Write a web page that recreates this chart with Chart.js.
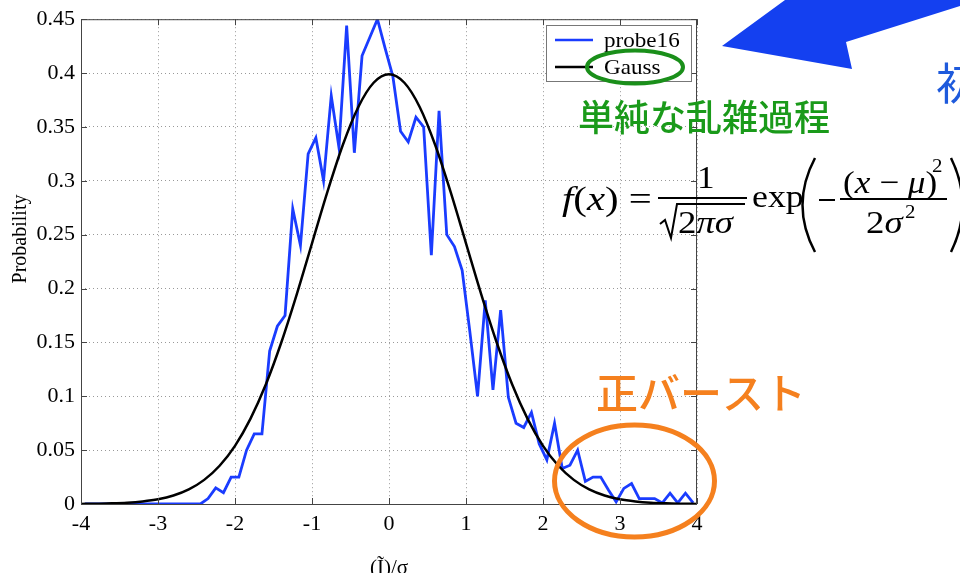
<!DOCTYPE html>
<html>
<head>
<meta charset="utf-8">
<script src="https://cdn.jsdelivr.net/npm/chart.js@4.4.0/dist/chart.umd.min.js"></script>
<style>
  html, body { margin: 0; padding: 0; background: #fff; }
  #wrap { position: relative; width: 960px; height: 573px; overflow: hidden; }
</style>
</head>
<body>
<div id="wrap"><canvas id="pdfChart" width="960" height="573"></canvas></div>
<script>
// probe16 histogram: bin centres (in sigma) and probabilities
const probeX = [-3.95, -3.85, -3.75, -3.65, -3.55, -3.45, -3.35, -3.25, -3.15, -3.05,
  -2.95, -2.85, -2.75, -2.65, -2.55, -2.45, -2.35, -2.25, -2.15, -2.05,
  -1.95, -1.85, -1.75, -1.65, -1.55, -1.45, -1.35, -1.25, -1.15, -1.05,
  -0.95, -0.85, -0.75, -0.65, -0.55, -0.45, -0.35, -0.25, -0.15, -0.05,
  0.05, 0.15, 0.25, 0.35, 0.45, 0.55, 0.65, 0.75, 0.85, 0.95,
  1.05, 1.15, 1.25, 1.35, 1.45, 1.55, 1.65, 1.75, 1.85, 1.95,
  2.05, 2.15, 2.25, 2.35, 2.45, 2.55, 2.65, 2.75, 2.85, 2.95,
  3.05, 3.15, 3.25, 3.35, 3.45, 3.55, 3.65, 3.75, 3.85, 3.95];
const probeY = [0, 0, 0, 0, 0, 0, 0, 0, 0, 0,
  0, 0, 0, 0, 0, 0, 0.005, 0.015, 0.0105, 0.025,
  0.025, 0.05, 0.065, 0.065, 0.142, 0.165, 0.175, 0.274, 0.24, 0.325,
  0.34, 0.30, 0.379, 0.331, 0.444, 0.326, 0.416, 0.433, 0.45, 0.423,
  0.397, 0.346, 0.336, 0.359, 0.35, 0.231, 0.365, 0.25, 0.239, 0.217,
  0.16, 0.10, 0.189, 0.106, 0.18, 0.099, 0.075, 0.071, 0.085, 0.056,
  0.041, 0.075, 0.033, 0.036, 0.05, 0.021, 0.025, 0.025, 0.013, 0.002,
  0.0145, 0.019, 0.005, 0.005, 0.005, 0.001, 0.01, 0.001, 0.01, 0.001];

// reference normal curve
const gaussX = [-4, -3.8, -3.6, -3.4, -3.2, -3, -2.8, -2.6, -2.4, -2.2,
  -2, -1.8, -1.6, -1.4, -1.2, -1, -0.8, -0.6, -0.4, -0.2,
  0, 0.2, 0.4, 0.6, 0.8, 1, 1.2, 1.4, 1.6, 1.8,
  2, 2.2, 2.4, 2.6, 2.8, 3, 3.2, 3.4, 3.6, 3.8, 4];
const gaussY = [0.0001, 0.0003, 0.0006, 0.0012, 0.0024, 0.0044, 0.0079, 0.0136, 0.0224, 0.0355,
  0.054, 0.079, 0.1109, 0.1497, 0.1942, 0.242, 0.2897, 0.3332, 0.3683, 0.391,
  0.3989, 0.391, 0.3683, 0.3332, 0.2897, 0.242, 0.1942, 0.1497, 0.1109, 0.079,
  0.054, 0.0355, 0.0224, 0.0136, 0.0079, 0.0044, 0.0024, 0.0012, 0.0006, 0.0003, 0.0001];

const xTicks = [-4, -3, -2, -1, 0, 1, 2, 3, 4];
const xTickLabels = ['-4', '-3', '-2', '-1', '0', '1', '2', '3', '4'];
const yTicks = [0, 0.05, 0.1, 0.15, 0.2, 0.25, 0.3, 0.35, 0.4, 0.45];
const yTickLabels = ['0', '0.05', '0.1', '0.15', '0.2', '0.25', '0.3', '0.35', '0.4', '0.45'];

const SERIF = "'Liberation Serif', 'Times New Roman', serif";
const CJK = "'Noto Sans CJK JP', 'Noto Sans CJK SC', sans-serif";

// box around the axes plus short inward tick marks
const frame = {
  id: 'frame',
  afterDatasetsDraw(chart) {
    const { ctx, chartArea: a, scales } = chart;
    ctx.save();
    ctx.strokeStyle = '#444';
    ctx.lineWidth = 1;
    ctx.strokeRect(a.left + 0.5, a.top + 0.5, a.right - a.left - 1, a.bottom - a.top);
    ctx.beginPath();
    xTicks.forEach(v => {
      const px = Math.round(scales.x.getPixelForValue(v)) + 0.5;
      ctx.moveTo(px, a.bottom); ctx.lineTo(px, a.bottom - 6);
      ctx.moveTo(px, a.top); ctx.lineTo(px, a.top + 6);
    });
    yTicks.forEach(v => {
      const py = Math.round(scales.y.getPixelForValue(v)) + 0.5;
      ctx.moveTo(a.left, py); ctx.lineTo(a.left + 6, py);
      ctx.moveTo(a.right, py); ctx.lineTo(a.right - 6, py);
    });
    ctx.stroke();

    // y axis caption, sitting a little above the centre like the original figure
    ctx.fillStyle = '#000';
    ctx.font = '20px ' + SERIF;
    ctx.textAlign = 'center';
    ctx.textBaseline = 'middle';
    ctx.translate(21, 239);
    ctx.rotate(-Math.PI / 2);
    ctx.fillText('Probability', 0, 0);
    ctx.restore();
  }
};

// draws runs of [text, italic] left to right
function runs(ctx, parts, x, y, size, sx) {
  ctx.save();
  ctx.translate(x, y);
  ctx.scale(sx, 1);
  let cx = 0;
  parts.forEach(([t, it]) => {
    ctx.font = (it ? 'italic ' : '') + size + 'px ' + SERIF;
    ctx.fillText(t, cx, 0);
    cx += ctx.measureText(t).width;
  });
  ctx.restore();
}

const notes = {
  id: 'notes',
  afterDraw(chart) {
    const ctx = chart.ctx;
    ctx.save();

    // legend box
    ctx.fillStyle = '#fff';
    ctx.fillRect(546, 25, 146, 57);
    ctx.strokeStyle = '#777';
    ctx.lineWidth = 1;
    ctx.strokeRect(546.5, 25.5, 145, 56);
    const rows = [40, 67];
    chart.data.datasets.forEach((ds, i) => {
      ctx.strokeStyle = ds.borderColor;
      ctx.lineWidth = 2.5;
      ctx.beginPath();
      ctx.moveTo(555, rows[i]); ctx.lineTo(593, rows[i]);
      ctx.stroke();
      ctx.fillStyle = '#000';
      ctx.textBaseline = 'middle';
      ctx.save();
      ctx.translate(604, rows[i] + 1);
      ctx.scale(1.1, 1);
      ctx.font = '21px ' + SERIF;
      ctx.fillText(ds.label, 0, 0);
      ctx.restore();
    });
    ctx.textBaseline = 'alphabetic';

    // green ring around the Gauss entry
    ctx.strokeStyle = '#1a8f1a';
    ctx.lineWidth = 4;
    ctx.beginPath();
    ctx.ellipse(635, 67, 48, 16.5, 0, 0, Math.PI * 2);
    ctx.stroke();

    // orange ring over the positive tail
    ctx.strokeStyle = '#f5801e';
    ctx.lineWidth = 5;
    ctx.beginPath();
    ctx.ellipse(634.5, 481, 80, 56, 0, 0, Math.PI * 2);
    ctx.stroke();

    // big blue arrow
    ctx.fillStyle = '#1440f0';
    ctx.beginPath();
    ctx.moveTo(722, 46);
    ctx.lineTo(785, 0);
    ctx.lineTo(960, 0);
    ctx.lineTo(960, 6);
    ctx.lineTo(846, 42);
    ctx.lineTo(852, 69);
    ctx.closePath();
    ctx.fill();

    // captions
    ctx.fillStyle = '#1e5adc';
    ctx.font = '44px ' + CJK;
    ctx.fillText('初', 936, 100);

    ctx.fillStyle = '#1a9a1a';
    ctx.font = '500 36px ' + CJK;
    ctx.fillText('単純な乱雑過程', 578, 131);

    ctx.fillStyle = '#f5801e';
    ctx.font = '500 42px ' + CJK;
    ctx.fillText('正バースト', 596, 409);

    // normal density formula
    ctx.fillStyle = '#000';
    ctx.strokeStyle = '#000';
    runs(ctx, [['f', 1], ['(', 0], ['x', 1], [')', 0], [' =', 0]], 562, 210, 34, 1.2);
    runs(ctx, [['1', 0]], 697, 188, 32, 1.1);
    ctx.lineWidth = 2;
    ctx.beginPath();
    ctx.moveTo(658, 198); ctx.lineTo(747, 198);
    ctx.moveTo(660, 224); ctx.lineTo(665, 220); ctx.lineTo(671, 238); ctx.lineTo(677, 204); ctx.lineTo(745, 204);
    ctx.moveTo(840, 199); ctx.lineTo(947, 199);
    ctx.moveTo(819, 200); ctx.lineTo(835, 200);
    ctx.stroke();
    runs(ctx, [['2', 0], ['π', 1], ['σ', 1]], 678, 233, 32, 1.15);
    runs(ctx, [['exp', 0]], 752, 207, 32, 1.12);
    runs(ctx, [['(', 0], ['x', 1], [' − ', 0], ['μ', 1], [')', 0]], 843, 193, 32, 1.1);
    runs(ctx, [['2', 0]], 932, 172, 19, 1.1);
    runs(ctx, [['2', 0], ['σ', 1]], 866, 233, 32, 1.15);
    runs(ctx, [['2', 0]], 905, 218, 19, 1.1);
    ctx.lineWidth = 2.5;
    ctx.beginPath();
    ctx.moveTo(815, 158); ctx.quadraticCurveTo(790, 205, 815, 252);
    ctx.moveTo(951, 158); ctx.quadraticCurveTo(974, 205, 951, 252);
    ctx.stroke();

    ctx.restore();
  }
};

new Chart(document.getElementById('pdfChart'), {
  type: 'line',
  data: {
    datasets: [
      {
        label: 'probe16',
        data: probeX.map((x, i) => ({ x: x, y: probeY[i] })),
        borderColor: '#1a3cff',
        borderWidth: 2.8,
        pointRadius: 0,
        tension: 0,
        order: 1
      },
      {
        label: 'Gauss',
        data: gaussX.map((x, i) => ({ x: x, y: gaussY[i] })),
        borderColor: '#000',
        borderWidth: 2.5,
        pointRadius: 0,
        cubicInterpolationMode: 'monotone',
        order: 0
      }
    ]
  },
  options: {
    responsive: false,
    animation: false,
    devicePixelRatio: 1,
    layout: { padding: { left: 0, right: 263, top: 18, bottom: 0 } },
    plugins: { legend: { display: false }, tooltip: { enabled: false } },
    scales: {
      x: {
        type: 'linear',
        min: -4,
        max: 4,
        afterFit: s => { s.height = 69; },
        afterBuildTicks: s => { s.ticks = xTicks.map(v => ({ value: v })); },
        ticks: {
          padding: 7,
          color: '#000',
          font: { family: SERIF, size: 22 },
          maxRotation: 0,
          callback: (v, i) => xTickLabels[i]
        },
        grid: { color: '#999', lineWidth: 1, drawTicks: false },
        border: { display: false, dash: [1, 3] },
        title: {
          display: true,
          text: '(Ĩ)/σ',
          color: '#000',
          font: { family: SERIF, size: 21 },
          padding: { top: 0, bottom: -8 }
        }
      },
      y: {
        min: 0,
        max: 0.45,
        afterFit: s => { s.width = 81; },
        afterBuildTicks: s => { s.ticks = yTicks.map(v => ({ value: v })); },
        ticks: {
          padding: 6,
          color: '#000',
          font: { family: SERIF, size: 22 },
          callback: (v, i) => yTickLabels[i]
        },
        grid: { color: '#999', lineWidth: 1, drawTicks: false },
        border: { display: false, dash: [1, 3] },
        title: { display: false }
      }
    }
  },
  plugins: [frame, notes]
});
</script>
</body>
</html>
